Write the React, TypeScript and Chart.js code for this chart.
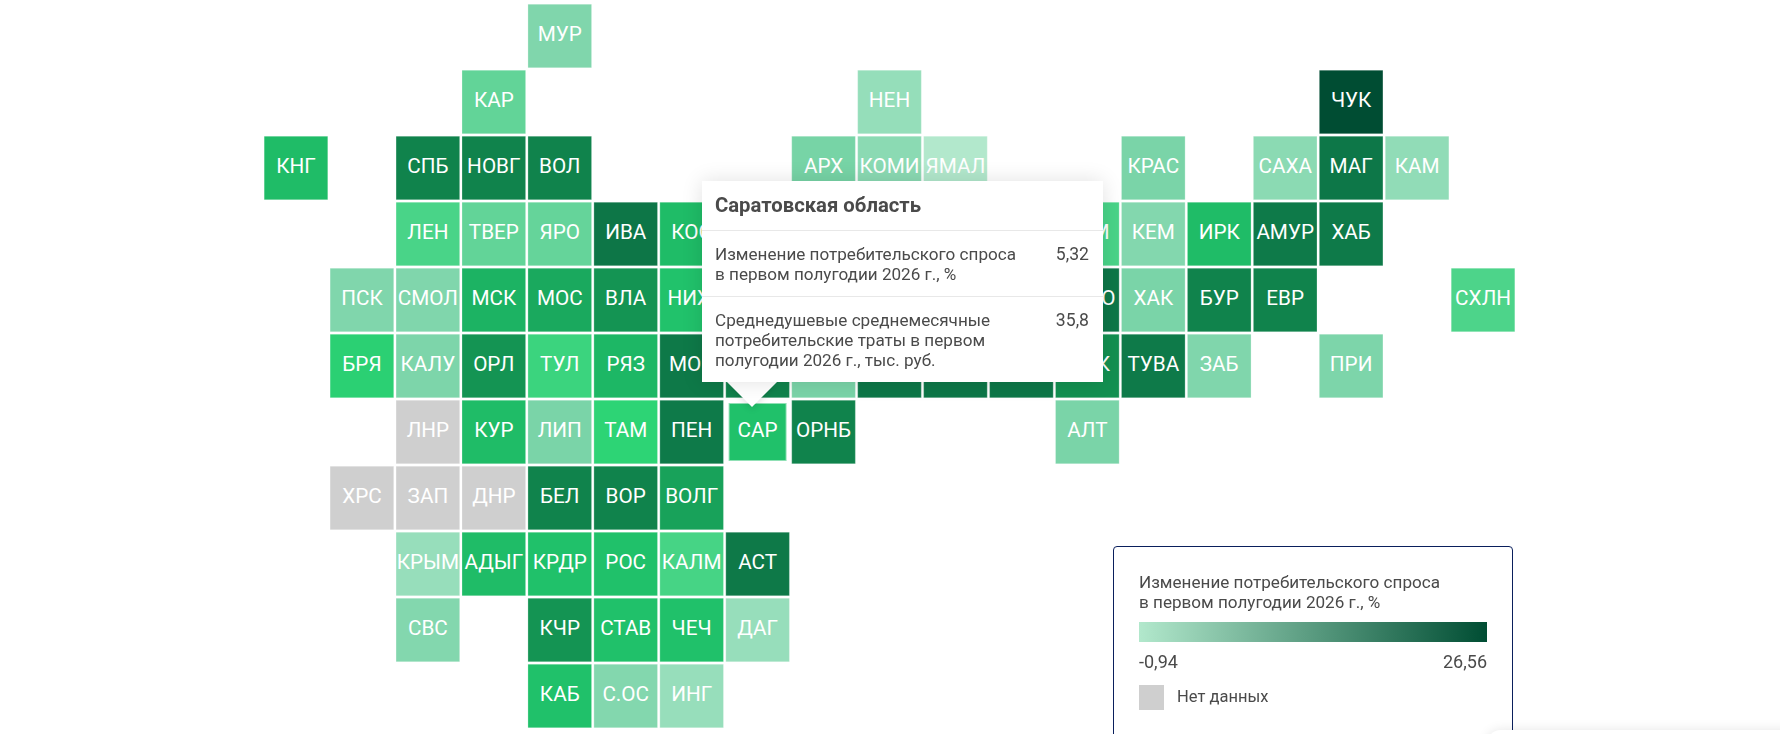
import React, { useEffect, useRef } from "react";
import { Chart, registerables } from "chart.js";

Chart.register(...registerables);

// Region tile codes ("" = tile hidden under the tooltip, its label cannot be read)
const codes = [
  "МУР",
  "КАР", "НЕН", "ЧУК",
  "КНГ", "СПБ", "НОВГ", "ВОЛ", "АРХ", "КОМИ", "ЯМАЛ", "КРАС", "САХА", "МАГ", "КАМ",
  "ЛЕН", "ТВЕР", "ЯРО", "ИВА", "КОС", "ТОМ", "КЕМ", "ИРК", "АМУР", "ХАБ",
  "ПСК", "СМОЛ", "МСК", "МОС", "ВЛА", "НИЖ", "НОВО", "ХАК", "БУР", "ЕВР", "СХЛН",
  "БРЯ", "КАЛУ", "ОРЛ", "ТУЛ", "РЯЗ", "МОР", "", "", "", "", "", "ОМК", "ТУВА", "ЗАБ", "ПРИ",
  "ЛНР", "КУР", "ЛИП", "ТАМ", "ПЕН", "САР", "ОРНБ", "АЛТ",
  "ХРС", "ЗАП", "ДНР", "БЕЛ", "ВОР", "ВОЛГ",
  "КРЫМ", "АДЫГ", "КРДР", "РОС", "КАЛМ", "АСТ",
  "СВС", "КЧР", "СТАВ", "ЧЕЧ", "ДАГ",
  "КАБ", "С.ОС", "ИНГ",
];

const gridColumns = [
  4,
  3, 9, 16,
  0, 2, 3, 4, 8, 9, 10, 13, 15, 16, 17,
  2, 3, 4, 5, 6, 12, 13, 14, 15, 16,
  1, 2, 3, 4, 5, 6, 12, 13, 14, 15, 18,
  1, 2, 3, 4, 5, 6, 7, 8, 9, 10, 11, 12, 13, 14, 16,
  2, 3, 4, 5, 6, 7, 8, 12,
  1, 2, 3, 4, 5, 6,
  2, 3, 4, 5, 6, 7,
  2, 4, 5, 6, 7,
  4, 5, 6,
];

const gridRows = [
  0,
  1, 1, 1,
  2, 2, 2, 2, 2, 2, 2, 2, 2, 2, 2,
  3, 3, 3, 3, 3, 3, 3, 3, 3, 3,
  4, 4, 4, 4, 4, 4, 4, 4, 4, 4, 4,
  5, 5, 5, 5, 5, 5, 5, 5, 5, 5, 5, 5, 5, 5, 5,
  6, 6, 6, 6, 6, 6, 6, 6,
  7, 7, 7, 7, 7, 7,
  8, 8, 8, 8, 8, 8,
  9, 9, 9, 9, 9,
  10, 10, 10,
];

// Change in consumer demand, % (estimated from tile colour; null = no data)
const demandChange: (number | null)[] = [
  0.8,
  1.7, 0.05, 26.56,
  5.7, 10.5, 10.5, 10.5, 1.1, 0.4, -0.94, 1.0, 0.4, 12.5, 0.2,
  2.4, 1.7, 1.6, 13, 5.7, 2.4, 0.7, 5.7, 11.5, 11.5,
  0.8, 0.8, 6.3, 7, 8.5, 5.2, 12.5, 1.0, 10.5, 10.5, 2.3,
  3.6, 0.9, 8.5, 2.8, 6, 12, 10.5, 1.0, 12.5, 12.5, 12.5, 9, 11.5, 0.8, 0.9,
  null, 5.7, 1.0, 3.2, 11.5, 5.32, 10.5, 1.0,
  null, null, null, 10.5, 10.5, 7.5,
  0.0, 5.7, 5.3, 5.3, 2.5, 12,
  0.7, 8.5, 5.3, 5.3, 0.0,
  5.3, 0.7, 0.0,
];

const colorStopValues = [-0.94, 1, 3.2, 5.32, 8.5, 11.5, 26.56];
const colorStopHex = ["#B2E8CC", "#7AD4A8", "#2DD475", "#20C16A", "#149453", "#0E7A49", "#004D33"];
const noDataColor = "#CFCFCF";

const activeCode = "САР";

const tooltipTitle = "Саратовская область";
const tooltipMetricLines = [
  ["Изменение потребительского спроса", "в первом полугодии 2026 г., %"],
  ["Среднедушевые среднемесячные", "потребительские траты в первом", "полугодии 2026 г., тыс. руб."],
];
const tooltipMetricValues = ["5,32", "35,8"];

const legendTitleLines = ["Изменение потребительского спроса", "в первом полугодии 2026 г., %"];
const legendMin = "-0,94";
const legendMax = "26,56";
const legendNoData = "Нет данных";

const FONT = "Roboto, sans-serif";

function hexToRgb(h: string) {
  return [1, 3, 5].map((i) => parseInt(h.slice(i, i + 2), 16));
}

function colorFor(v: number | null) {
  if (v === null) return noDataColor;
  let i = 0;
  while (i < colorStopValues.length - 2 && v > colorStopValues[i + 1]) i++;
  const t = Math.max(0, Math.min(1, (v - colorStopValues[i]) / (colorStopValues[i + 1] - colorStopValues[i])));
  const a = hexToRgb(colorStopHex[i]);
  const b = hexToRgb(colorStopHex[i + 1]);
  return `rgb(${a.map((c, k) => Math.round(c + (b[k] - c) * t)).join(",")})`;
}

const tileLabels = {
  id: "tileLabels",
  afterDatasetsDraw(chart: any) {
    const { ctx, scales } = chart;
    ctx.save();
    ctx.fillStyle = "#fff";
    ctx.font = `400 20.7px ${FONT}`;
    ctx.textAlign = "center";
    ctx.textBaseline = "alphabetic";
    codes.forEach((code, i) => {
      if (!code) return;
      ctx.fillText(code, scales.x.getPixelForValue(gridColumns[i]), scales.y.getPixelForValue(gridRows[i]) + 5);
    });
    ctx.restore();
  },
};

const abs = (left: number, top: number, extra: React.CSSProperties = {}): React.CSSProperties => ({
  position: "absolute",
  left,
  top,
  whiteSpace: "nowrap",
  ...extra,
});

export default function App() {
  const ref = useRef<HTMLCanvasElement>(null);

  useEffect(() => {
    const canvas = ref.current!;
    canvas.getContext("2d", { alpha: false });
    const chart = new Chart(canvas, {
      type: "scatter",
      data: {
        datasets: [
          {
            data: codes.map((_, i) => ({ x: gridColumns[i], y: gridRows[i] })),
            pointStyle: "rect",
            backgroundColor: demandChange.map(colorFor),
            borderColor: codes.map((c) => (c === activeCode ? "rgba(255,255,255,0.5)" : "rgba(255,255,255,0.25)")),
            borderWidth: codes.map((c) => (c === activeCode ? 2 : 1)),
            pointRadius: codes.map((c) => (c === activeCode ? 41 : 45)),
            clip: false,
          } as any,
        ],
      },
      options: {
        animation: false,
        responsive: false,
        events: [],
        layout: { autoPadding: false, padding: { left: 263, right: 264, top: 3, bottom: 5 } },
        plugins: { legend: { display: false }, tooltip: { enabled: false } },
        scales: {
          x: { type: "linear", min: -0.5, max: 18.5, display: false },
          y: { type: "linear", min: -0.5, max: 10.5, reverse: true, display: false },
        },
      },
      plugins: [
        {
          id: "whiteBackground",
          beforeDraw(c: any) {
            c.ctx.save();
            c.ctx.fillStyle = "#fff";
            c.ctx.fillRect(0, 0, c.width, c.height);
            c.ctx.restore();
          },
        },
        tileLabels,
      ],
    });
    return () => chart.destroy();
  }, []);

  const textColor = "#4A4A4A";

  return (
    <div style={{ position: "fixed", inset: 0, overflow: "hidden", background: "#fff", fontFamily: FONT }}>
      <canvas ref={ref} width={1780} height={734} style={{ position: "absolute", left: 0, top: 0, width: 1780, height: 734 }} />

      {/* tooltip */}
      <div style={abs(727, 382, { width: 0, height: 0, borderLeft: "25px solid transparent", borderRight: "25px solid transparent", borderTop: "25px solid #fff", filter: "drop-shadow(0 2px 3px rgba(0,0,0,0.12))" })} />
      <div style={abs(702, 181, { width: 401, height: 201, background: "#fff", boxShadow: "0 0 20px rgba(0,0,0,0.12)", color: textColor, fontSize: 17.1, lineHeight: "20px" })}>
        <div style={abs(13, 13, { fontSize: 20.3, fontWeight: 700, lineHeight: "22px" })}>{tooltipTitle}</div>
        <div style={abs(0, 49, { width: 401, height: 1, background: "#E8E8E8" })} />
        {tooltipMetricLines[0].map((l, i) => (
          <div key={l} style={abs(13, 63 + i * 20)}>{l}</div>
        ))}
        <div style={abs(0, 115, { width: 401, height: 1, background: "#E8E8E8" })} />
        {tooltipMetricLines[1].map((l, i) => (
          <div key={l} style={abs(13, 129 + i * 20)}>{l}</div>
        ))}
        <div style={{ ...abs(0, 63), width: 387, textAlign: "right", fontSize: 17.6 }}>{tooltipMetricValues[0]}</div>
        <div style={{ ...abs(0, 129), width: 387, textAlign: "right", fontSize: 17.6 }}>{tooltipMetricValues[1]}</div>
      </div>

      {/* legend */}
      <div style={abs(1113, 546, { width: 398, height: 220, border: "1px solid #0A1F5C", borderRadius: 4, background: "#fff", color: textColor, fontSize: 17.1, lineHeight: "20px" })}>
        {legendTitleLines.map((l, i) => (
          <div key={l} style={abs(25, 25 + i * 20)}>{l}</div>
        ))}
        <div style={abs(25, 75, { width: 348, height: 20, background: "linear-gradient(to right, #B2E8CC, #004D33)" })} />
        <div style={abs(25, 105, { fontSize: 18 })}>{legendMin}</div>
        <div style={{ ...abs(0, 105), width: 373, textAlign: "right", fontSize: 18 }}>{legendMax}</div>
        <div style={abs(25, 138, { width: 25, height: 25, background: noDataColor })} />
        <div style={abs(63, 140, { fontSize: 16.5 })}>{legendNoData}</div>
      </div>

      {/* box peeking in at the bottom right corner */}
      <div style={abs(1487, 730, { width: 320, height: 60, background: "#fff", borderRadius: 14, boxShadow: "0 0 12px rgba(0,0,0,0.1)" })} />
    </div>
  );
}
